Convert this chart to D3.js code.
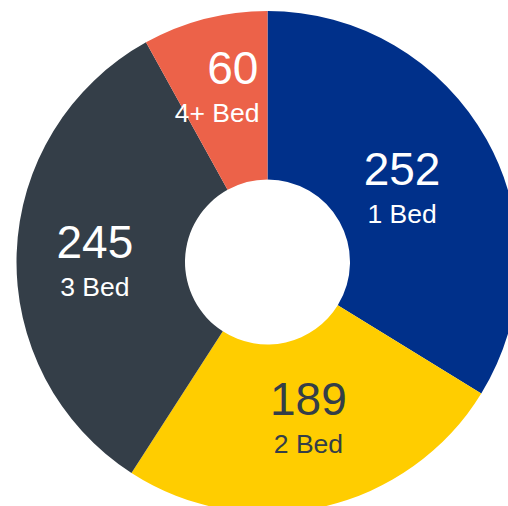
<!DOCTYPE html>
<html>
<head>
<meta charset="utf-8">
<script src="https://cdn.jsdelivr.net/npm/d3@7"></script>
<style>
  html, body { margin: 0; padding: 0; background: #fff; }
  svg { display: block; }
  text { font-family: "Liberation Sans", Arial, Helvetica, sans-serif; }
</style>
</head>
<body>
<svg id="chart" width="508" height="506"></svg>
<script>
// data
const categories = ["1 Bed", "2 Bed", "3 Bed", "4+ Bed"];
const counts = [252, 189, 245, 60];
const sliceColors = ["#00308a", "#ffcd00", "#343e48", "#ec6249"];
const textColors = ["#ffffff", "#343e48", "#ffffff", "#ffffff"];

const svg = d3.select("#chart"),
    width = +svg.attr("width"),
    height = +svg.attr("height");

const cx = 267.5, cy = 262;
const outerR = 251, innerR = 82.5;

let rows = categories.map((c, i) => ({ cat: c, value: counts[i], i: i }));

let pie = d3.pie()
    .value(d => d.value)
    .sort(null);

let arc = d3.arc()
    .innerRadius(innerR)
    .outerRadius(outerR);

let g = svg.append("g")
    .attr("transform", `translate(${cx},${cy})`);

let arcs = pie(rows);

g.selectAll("path")
    .data(arcs)
    .enter().append("path")
    .attr("d", arc)
    .attr("fill", d => sliceColors[d.data.i]);

//small nudges so each label block sits like in the original
const nudge = [[-11, 7], [4, -7], [-6, 4.5], [7, -14]];

let labels = g.selectAll("g.lbl")
    .data(arcs)
    .enter().append("g")
    .attr("class", "lbl")
    .attr("transform", d => {
        let c = arc.centroid(d);
        let n = nudge[d.data.i];
        return `translate(${c[0] + n[0]},${c[1] + n[1]})`;
    });

labels.append("text")
    .attr("class", "val")
    .attr("text-anchor", "middle")
    .attr("y", -3)
    .attr("font-size", 46)
    .attr("fill", d => textColors[d.data.i])
    .text(d => d.data.value);

labels.append("text")
    .attr("class", "cat")
    .attr("text-anchor", "middle")
    .attr("y", 35)
    .attr("font-size", 26.5)
    .attr("fill", d => textColors[d.data.i])
    .text(d => d.data.cat);

//keep the text of the last slice left of the top edge (x = 0 in g)
labels.each(function (d) {
    if (d.endAngle < 2 * Math.PI - 1e-6) return;
    let lg = d3.select(this);
    let tx = arc.centroid(d)[0] + nudge[d.data.i][0];
    lg.selectAll("text").each(function () {
        let w = this.getComputedTextLength();
        let right = tx + w / 2;
        if (right > -8) {
            d3.select(this).attr("x", -8 - right);
        }
    });
});
</script>
</body>
</html>
